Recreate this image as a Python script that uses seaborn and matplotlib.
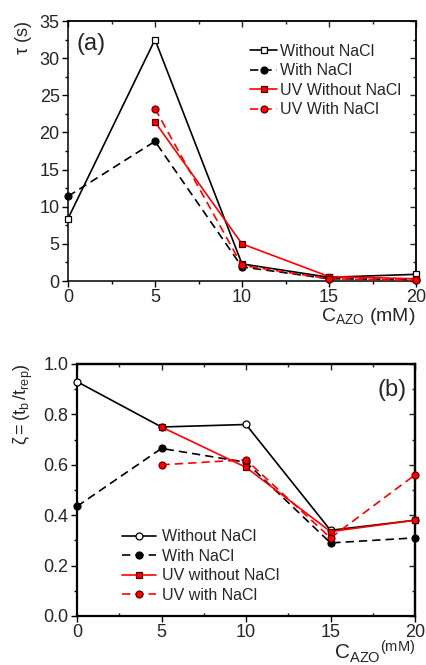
import numpy as np
import pandas as pd
import seaborn as sns
import matplotlib
matplotlib.use("Agg")
import matplotlib.pyplot as plt
from matplotlib.ticker import MultipleLocator, FormatStrFormatter

# ---- data ----
conc = [0, 5, 10, 15, 20]
conc_uv = [5, 10, 15, 20]

tau_without = [8.4, 32.5, 2.3, 0.5, 0.9]
tau_with = [11.4, 18.8, 1.9, 0.3, 0.2]
tau_uv_without = [21.4, 5.0, 0.6, 0.3]
tau_uv_with = [23.2, 2.1, 0.3, 0.1]

zeta_without = [0.93, 0.75, 0.76, 0.34, 0.38]
zeta_with = [0.435, 0.665, 0.61, 0.29, 0.31]
zeta_uv_without = [0.75, 0.59, 0.335, 0.38]
zeta_uv_with = [0.60, 0.62, 0.31, 0.56]

labels_a = ["Without NaCl", "With NaCl", "UV Without NaCl", "UV With NaCl"]
labels_b = ["Without NaCl", "With NaCl", "UV without NaCl", "UV with NaCl"]

sns.set_theme(style="ticks")
plt.rcParams["font.family"] = ["Liberation Sans", "DejaVu Sans"]
plt.rcParams["mathtext.fontset"] = "custom"
plt.rcParams["mathtext.rm"] = "Liberation Sans"
plt.rcParams["mathtext.it"] = "Liberation Sans"
plt.rcParams["mathtext.sf"] = "Liberation Sans"

RED = "#ff0000"
DASH = (0, (5, 3))

fig = plt.figure(figsize=(4.26, 6.65), dpi=100)
ax_a = fig.add_axes([68 / 426, 1 - 281 / 665, 348 / 426, 260 / 665])
ax_b = fig.add_axes([77 / 426, 1 - 616 / 665, 338 / 426, 252 / 665])


def draw(ax, xs, ys, color, ls, marker, mfc, mec, label, ms=5):
    sns.lineplot(x=xs, y=ys, ax=ax, color=color, linestyle=ls, linewidth=1.2,
                 marker=marker, markersize=ms, markerfacecolor=mfc,
                 markeredgecolor=mec, markeredgewidth=0.9, label=label,
                 clip_on=False, zorder=3)


def style_axes(ax, ymax, ymajor, yminor, spine_w, bottom_minor_dir):
    ax.set_xlim(0, 20)
    ax.set_ylim(0, ymax)
    ax.xaxis.set_major_locator(MultipleLocator(5))
    ax.xaxis.set_minor_locator(MultipleLocator(2.5))
    ax.yaxis.set_major_locator(MultipleLocator(ymajor))
    ax.yaxis.set_minor_locator(MultipleLocator(yminor))
    for s in ax.spines.values():
        s.set_linewidth(spine_w)
        s.set_color("black")
    ax.tick_params(which="major", direction="out", length=4, width=1.0,
                   labelsize=13, color="black", pad=2)
    ax.tick_params(which="minor", direction="out", length=2.5, width=1.0,
                   color="black")
    ax.tick_params(axis="x", which="minor", direction=bottom_minor_dir)
    top = ax.secondary_xaxis("top")
    top.xaxis.set_major_locator(MultipleLocator(5))
    top.xaxis.set_minor_locator(MultipleLocator(2.5))
    top.tick_params(which="both", direction="in", labeltop=False, width=1.0)
    top.tick_params(which="major", length=4)
    top.tick_params(which="minor", length=2.5)
    top.spines["top"].set_linewidth(spine_w)
    right = ax.secondary_yaxis("right")
    right.yaxis.set_major_locator(MultipleLocator(ymajor))
    right.yaxis.set_minor_locator(MultipleLocator(yminor))
    right.tick_params(which="both", direction="in", labelright=False, width=1.0)
    right.tick_params(which="major", length=4)
    right.tick_params(which="minor", length=2.5)
    right.spines["right"].set_linewidth(spine_w)


# ---- panel (a) ----
draw(ax_a, conc, tau_without, "black", "-", "s", "white", "black", labels_a[0])
draw(ax_a, conc, tau_with, "black", DASH, "o", "black", "black", labels_a[1])
draw(ax_a, conc_uv, tau_uv_without, RED, "-", "s", RED, "#550000", labels_a[2])
draw(ax_a, conc_uv, tau_uv_with, RED, DASH, "o", RED, "#660000", labels_a[3])
style_axes(ax_a, 35, 5, 2.5, 1.1, "out")
ax_a.set_xlabel(r"$\mathrm{C_{AZO}}$ (mM)", fontsize=14, loc="right", labelpad=0)
ax_a.set_ylabel(r"$\tau$ (s)", fontsize=13, loc="top", labelpad=4)
ax_a.text(0.025, 0.955, "(a)", transform=ax_a.transAxes, fontsize=17,
          ha="left", va="top")
ax_a.legend(loc="upper right", bbox_to_anchor=(0.99, 0.955),
            frameon=False, fontsize=11.5, handlelength=1.7,
            handletextpad=0.2, labelspacing=0.28, borderaxespad=0.3)

# ---- panel (b) ----
draw(ax_b, conc, zeta_without, "black", "-", "o", "white", "black", labels_b[0])
draw(ax_b, conc, zeta_with, "black", DASH, "o", "black", "black", labels_b[1])
draw(ax_b, conc_uv, zeta_uv_without, RED, "-", "s", RED, "#550000", labels_b[2])
draw(ax_b, conc_uv, zeta_uv_with, RED, DASH, "o", RED, "#660000", labels_b[3])
style_axes(ax_b, 1.0, 0.2, 0.1, 1.6, "in")
ax_b.yaxis.set_major_formatter(FormatStrFormatter("%.1f"))
ax_b.set_xlabel(r"$\mathrm{C_{AZO}}$$^{\mathrm{(mM)}}$", fontsize=15,
                loc="right", labelpad=-2)
ax_b.set_ylabel(r"$\zeta = (\mathrm{t_b\,/t_{rep}})$", fontsize=13,
                loc="top", labelpad=6)
ax_b.text(0.975, 0.94, "(b)", transform=ax_b.transAxes, fontsize=17,
          ha="right", va="top")
ax_b.legend(loc="lower left", bbox_to_anchor=(0.10, 0.008),
            frameon=False, fontsize=11.5, handlelength=2.1,
            handletextpad=0.4, labelspacing=0.28, borderaxespad=0.3)

fig.savefig("out.png", dpi=100)
